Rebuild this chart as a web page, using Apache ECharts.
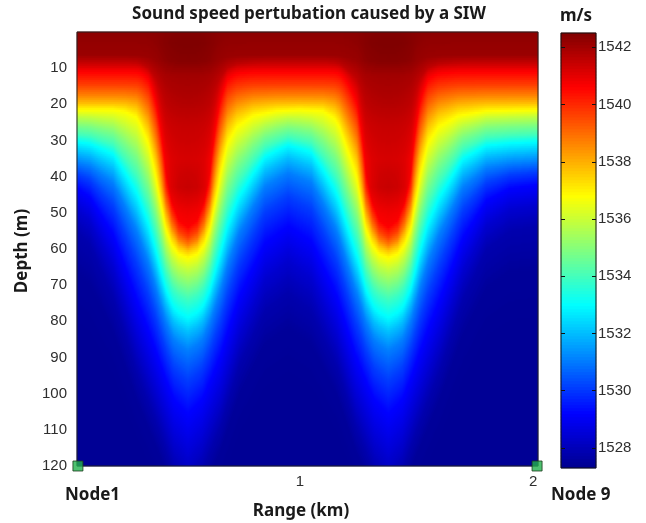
<!DOCTYPE html>
<html><head><meta charset="utf-8">
<script src="https://cdn.jsdelivr.net/npm/echarts@6/dist/echarts.min.js"></script>
<style>html,body{margin:0;padding:0;background:#fff}#c{width:646px;height:523px}</style>
</head><body><div id="c"></div>
<script>
// ---- axis / tick data ----
const rangeTicksKm = [1, 2];
const depthTicksM = [10, 20, 30, 40, 50, 60, 70, 80, 90, 100, 110, 120];
const speedTicks = [1528, 1530, 1532, 1534, 1536, 1538, 1540, 1542];
const rangeMinKm = 0.043, rangeMaxKm = 2.021;
const depthMinM = 0, depthMaxM = 120;
const speedMin = 1527.3, speedMax = 1542.5;

// ---- undisturbed sound-speed levels (read at left edge) ----
const levelDepthM = [0, 6.4, 8.3, 9.7, 11, 14.7, 17.5, 19.8, 21.6, 23.5, 25.8, 28.5, 30.4, 33.1, 35.9, 38.7, 42.4, 47.9, 53.4, 65, 80, 120];
const levelSpeed  = [1542.3, 1542.1, 1541.55, 1541.1, 1540.6, 1539.65, 1538.7, 1537.75, 1536.8, 1535.85, 1534.9, 1533.95, 1533.0, 1532.05, 1531.1, 1530.15, 1529.2, 1528.4, 1527.86, 1527.5, 1527.4, 1527.4];
// downward shift of each level at the wave troughs (m)
const levelTroughShiftM = [0, 2, 13.7, 30.3, 43, 42.3, 41.5, 40.7, 40.9, 42.5, 44.2, 45.5, 48.6, 49.9, 52.1, 57.3, 63.6, 70.1, 72.6, 67, 60, 30];
// share of the broad wave shape and of the deep tail shape for each level
const levelBroadShare = [0, 0, 0, 0, 0, 0, 0, 0, 0, 0.2, 0.35, 0.5, 0.6, 0.65, 0.6, 0.45, 0.25, 0.15, 0, 0, 0, 0];
const levelTailShare  = [0, 0, 0, 0, 0, 0, 0, 0, 0, 0, 0, 0, 0, 0.05, 0.15, 0.4, 0.7, 0.85, 1, 1, 1, 1];
// sharpening of the narrow shape for the warm core levels
const levelCorePower  = [1, 1, 1.4, 2, 2, 1.8, 1.5, 1.25, 1, 1, 1, 1, 1, 1, 1, 1, 1, 1, 1, 1, 1, 1];

// ---- wave shapes vs range ----
const narrowRangeKm = [0.043, 0.2, 0.25, 0.30, 0.32, 0.35, 0.383, 0.41, 0.425, 0.45, 0.48, 0.52, 0.56, 0.59, 0.615, 0.63, 0.657, 0.69, 0.73, 0.80, 0.9, 1.0, 1.1, 1.15, 1.17, 1.2, 1.245, 1.27, 1.283, 1.31, 1.34, 1.38, 1.42, 1.45, 1.477, 1.49, 1.515, 1.55, 1.595, 1.68, 1.8, 2.021];
const narrowShape   = [0, 0, 0.012, 0.05, 0.115, 0.225, 0.45, 0.675, 0.8, 0.91, 0.975, 1, 0.975, 0.91, 0.8, 0.675, 0.45, 0.225, 0.115, 0.04, 0.008, 0, 0.008, 0.06, 0.115, 0.25, 0.45, 0.675, 0.8, 0.91, 0.975, 1, 0.975, 0.91, 0.8, 0.675, 0.45, 0.225, 0.115, 0.04, 0.008, 0];
const broadRangeKm  = [0.043, 0.1, 0.2, 0.3, 0.4, 0.46, 0.52, 0.58, 0.66, 0.74, 0.85, 0.95, 1.05, 1.16, 1.24, 1.32, 1.38, 1.44, 1.5, 1.6, 1.7, 1.8, 1.9, 2.021];
const broadShape    = [0, 0.02, 0.12, 0.45, 0.8, 0.95, 1, 0.95, 0.77, 0.45, 0.13, 0.03, 0.1, 0.45, 0.77, 0.95, 1, 0.95, 0.8, 0.45, 0.14, 0.03, 0.01, 0];
const tailRangeKm   = [0.043, 0.1, 0.2, 0.3, 0.4, 0.46, 0.52, 0.58, 0.66, 0.74, 0.85, 0.95, 1.05, 1.16, 1.24, 1.32, 1.38, 1.44, 1.5, 1.6, 1.7, 1.8, 1.9, 2.021];
const tailShape     = [0.02, 0.07, 0.27, 0.55, 0.78, 0.93, 1, 0.93, 0.76, 0.53, 0.32, 0.25, 0.32, 0.53, 0.76, 0.93, 1, 0.93, 0.78, 0.55, 0.28, 0.09, 0.02, 0];
// extra speed in the wave cores (m/s at trough centre) vs depth
const coreDepthM = [0, 3, 8, 12, 20, 26, 35, 43, 50, 56];
const coreBoost  = [0.15, 0.3, 0.3, 0.05, 0.1, 0, 0, 0.45, 0.1, 0];

// ---- receiver nodes ----
const nodeNames = ['Node1', 'Node 9'];
const nodeRangeKm = [0.047, 2.017];
const nodeDepthM = [120, 120];

const jet = ['#00008f', '#0000ff', '#0080ff', '#00ffff', '#80ff80', '#ffff00', '#ff8000', '#ff0000', '#800000'];

function interp(xs, ys, x) {
  if (x <= xs[0]) return ys[0];
  const n = xs.length;
  if (x >= xs[n - 1]) return ys[n - 1];
  let i = 1; while (xs[i] < x) i++;
  const t = (x - xs[i - 1]) / (xs[i] - xs[i - 1]);
  return ys[i - 1] + t * (ys[i] - ys[i - 1]);
}

const NX = 461, NY = 217;
const dr = (rangeMaxKm - rangeMinKm) / NX, dz = (depthMaxM - depthMinM) / NY;
const xCats = [], yCats = [], field = [];
for (let j = 0; j < NY; j++) yCats.push(String(j));
for (let i = 0; i < NX; i++) {
  xCats.push(String(i));
  const r = rangeMinKm + (i + 0.5) * dr;
  const n = interp(narrowRangeKm, narrowShape, r);
  const b = interp(broadRangeKm, broadShape, r);
  const t = interp(tailRangeKm, tailShape, r);
  const zk = [];
  for (let k = 0; k < levelDepthM.length; k++) {
    const wb = levelBroadShare[k], wt = levelTailShare[k];
    const nk = Math.pow(n, levelCorePower[k]);
    let z = levelDepthM[k] + levelTroughShiftM[k] * ((1 - wb - wt) * nk + wb * b + wt * t);
    if (k > 0 && z <= zk[k - 1]) z = zk[k - 1] + 0.01;
    zk.push(z);
  }
  for (let j = 0; j < NY; j++) {
    const z = depthMinM + (j + 0.5) * dz;
    const v = interp(zk, levelSpeed, z) + n * n * interp(coreDepthM, coreBoost, z);
    field.push([i, j, v]);
  }
}
// colour bar cells
const cbCats = [], cbData = [];
const NCB = 145;
for (let k = 0; k < NCB; k++) {
  cbCats.push(String(k));
  cbData.push([0, k, speedMin + (k + 0.5) * (speedMax - speedMin) / NCB]);
}

const txt = '#1a1a1a', lab = '#2e2e2e';
const boldFont = '"Noto Sans", "DejaVu Sans", sans-serif';
const numFont = '"Liberation Sans", Arial, sans-serif';
const fmt = v => String(v);

const chart = echarts.init(document.getElementById('c'), null, {renderer: 'canvas'});
chart.setOption({
  animation: false,
  backgroundColor: '#fff',
  grid: [
    {left: 77, top: 32, width: 461, height: 434, show: true, borderColor: '#222', borderWidth: 1, backgroundColor: 'transparent', z: 10},
    {left: 561, top: 33, width: 35, height: 435, show: true, borderColor: '#111', borderWidth: 1, backgroundColor: 'transparent', z: 10}
  ],
  visualMap: {show: false, type: 'continuous', min: speedMin, max: speedMax, dimension: 2, seriesIndex: [0, 1], inRange: {color: jet}},
  xAxis: [
    {type: 'category', gridIndex: 0, data: xCats, show: false},
    {type: 'value', gridIndex: 0, min: rangeMinKm, max: rangeMaxKm, position: 'bottom', z: 10,
      axisLine: {show: false}, splitLine: {show: false}, axisTick: {show: false},
      axisLabel: {customValues: rangeTicksKm, formatter: fmt, color: lab, fontSize: 15, fontFamily: numFont, margin: 8}},
    {type: 'category', gridIndex: 1, data: ['cb'], show: false}
  ],
  yAxis: [
    {type: 'category', gridIndex: 0, data: yCats, inverse: true, show: false},
    {type: 'value', gridIndex: 0, min: depthMinM, max: depthMaxM, inverse: true, position: 'left', z: 10,
      axisLine: {show: false}, splitLine: {show: false}, axisTick: {show: false},
      axisLabel: {customValues: depthTicksM, formatter: fmt, color: lab, fontSize: 15, fontFamily: numFont, margin: 10}},
    {type: 'category', gridIndex: 1, data: cbCats, show: false},
    {type: 'value', gridIndex: 1, min: speedMin, max: speedMax, position: 'right', z: 10,
      axisLine: {show: false}, splitLine: {show: false},
      axisTick: {show: true, inside: true, length: 4, customValues: speedTicks, lineStyle: {color: '#111'}},
      axisLabel: {customValues: speedTicks, formatter: fmt, color: lab, fontSize: 15, fontFamily: numFont, margin: 2}},
    {type: 'value', gridIndex: 1, min: speedMin, max: speedMax, position: 'left', z: 10,
      axisLine: {show: false}, splitLine: {show: false},
      axisTick: {show: true, inside: true, length: 4, customValues: speedTicks, lineStyle: {color: '#111'}},
      axisLabel: {show: false}}
  ],
  series: [
    {type: 'heatmap', xAxisIndex: 0, yAxisIndex: 0, data: field, progressive: 0, silent: true, emphasis: {disabled: true}},
    {type: 'heatmap', xAxisIndex: 2, yAxisIndex: 2, data: cbData, progressive: 0, silent: true, emphasis: {disabled: true}},
    {type: 'scatter', xAxisIndex: 1, yAxisIndex: 1, clip: false, z: 20, silent: true,
      symbol: 'rect', symbolSize: 10,
      itemStyle: {color: '#22b14c', borderColor: '#1b3b1b', borderWidth: 1},
      data: nodeRangeKm.map((r, i) => [r, nodeDepthM[i]])}
  ],
  graphic: [
    {type: 'text', style: {text: 'Sound speed pertubation caused by a SIW', x: 309, y: 14, align: 'center', verticalAlign: 'middle', font: 'bold 17px ' + boldFont, fill: txt}},
    {type: 'text', style: {text: 'm/s', x: 576, y: 16, align: 'center', verticalAlign: 'middle', font: 'bold 17px ' + boldFont, fill: txt}},
    {type: 'text', rotation: Math.PI / 2, x: 22, y: 251, style: {text: 'Depth (m)', x: 0, y: 0, align: 'center', verticalAlign: 'middle', font: 'bold 17px ' + boldFont, fill: txt}},
    {type: 'text', style: {text: nodeNames[0], x: 65, y: 495, align: 'left', verticalAlign: 'middle', font: 'bold 17px ' + boldFont, fill: txt}},
    {type: 'text', style: {text: nodeNames[1], x: 551, y: 495, align: 'left', verticalAlign: 'middle', font: 'bold 17px ' + boldFont, fill: txt}},
    {type: 'text', style: {text: 'Range (km)', x: 301, y: 511, align: 'center', verticalAlign: 'middle', font: 'bold 17px ' + boldFont, fill: txt}}
  ]
});
</script></body></html>
